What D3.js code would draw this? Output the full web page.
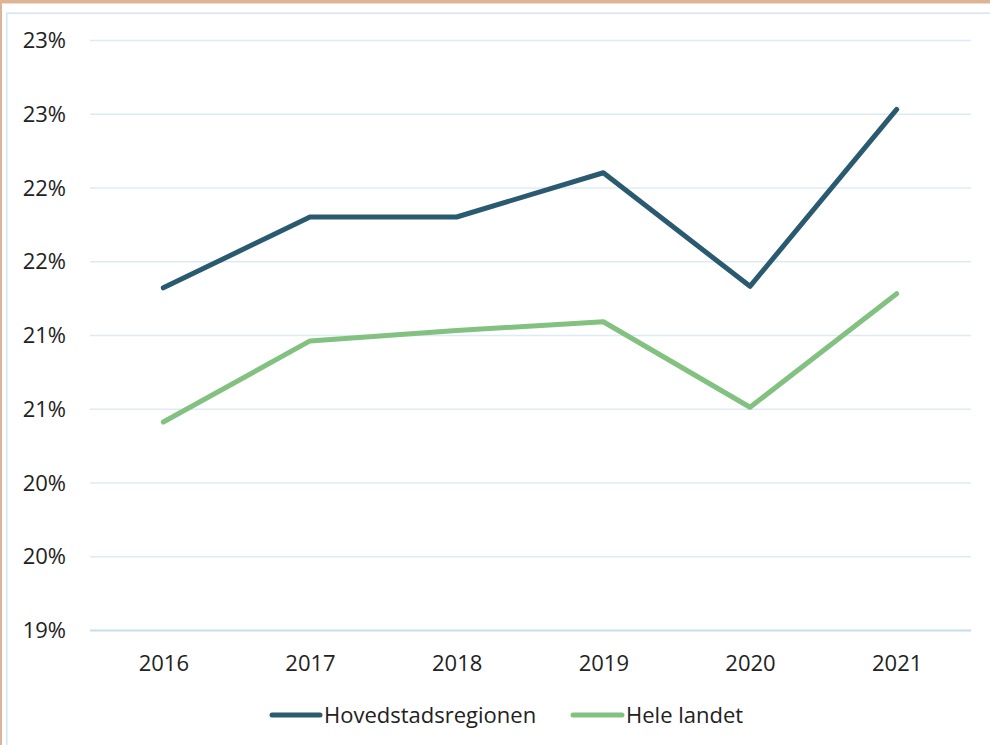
<!DOCTYPE html>
<html>
<head>
<meta charset="utf-8">
<script src="https://cdn.jsdelivr.net/npm/d3@7"></script>
<style>
  html, body { margin: 0; padding: 0; background: #fff; }
  svg { display: block; }
</style>
</head>
<body>
<svg id="chart" width="990" height="745"></svg>
<script>
const years = ["2016", "2017", "2018", "2019", "2020", "2021"];
const hovedstad = [21.32, 21.80, 21.80, 22.10, 21.33, 22.53];
const heleLandet = [20.41, 20.96, 21.03, 21.09, 20.51, 21.28];
const yTicks = [19, 19.5, 20, 20.5, 21, 21.5, 22, 22.5, 23];
const seriesNames = ["Hovedstadsregionen", "Hele landet"];
const seriesColors = ["#2a5a70", "#83c180"];

const svg = d3.select("#chart");
const W = 990, H = 745;
const font = "'Open Sans', 'Noto Sans', sans-serif";
const fs = 22;

// frame
svg.append("rect").attr("x", 0).attr("y", 0).attr("width", W).attr("height", H).attr("fill", "#deb497");
svg.append("rect").attr("x", 2).attr("y", 3.5).attr("width", W).attr("height", H).attr("fill", "#fff");
svg.append("rect").attr("x", 6.75).attr("y", 13.25).attr("width", W + 10).attr("height", H + 10)
  .attr("fill", "#fff").attr("stroke", "#d3e5f0").attr("stroke-width", 1.5);

const x = d3.scalePoint().domain(years).range([90, 970]).padding(0.5);
const y = d3.scaleLinear().domain([19, 23]).range([630, 40]);

// gridlines
const yAxis = d3.axisLeft(y).tickValues(yTicks).tickSize(0).tickPadding(0)
  .tickFormat(d => Math.round(d) + "%");
const gY = svg.append("g").call(yAxis);
gY.select(".domain").remove();
gY.selectAll("text").attr("x", 66).attr("text-anchor", "end").attr("dy", "0.35em")
  .attr("font-family", font).attr("font-size", fs).attr("fill", "#222");
gY.selectAll(".tick").append("line")
  .attr("x1", 90).attr("x2", 971)
  .attr("stroke", d => d === 19 ? "#c6dde9" : "#deebf4")
  .attr("stroke-width", d => d === 19 ? 2 : 1.3);
gY.selectAll(".tick text").raise();

// x axis
const xAxis = d3.axisBottom(x).tickSize(0).tickPadding(0);
const gX = svg.append("g").attr("transform", "translate(0,630)").call(xAxis);
gX.select(".domain").remove();
gX.selectAll("text").attr("y", 33).attr("dy", "0.35em")
  .attr("font-family", font).attr("font-size", fs).attr("fill", "#222");

// lines
const line = d3.line().x((d, i) => x(years[i])).y(d => y(d));
[hovedstad, heleLandet].forEach((s, k) => {
  svg.append("path").datum(s).attr("d", line)
    .attr("fill", "none").attr("stroke", seriesColors[k]).attr("stroke-width", 5)
    .attr("stroke-linecap", "round").attr("stroke-linejoin", "round");
});

// legend
const legendItems = [{x0: 272, x1: 320, tx: 324}, {x0: 573, x1: 622, tx: 626}];
legendItems.forEach((it, k) => {
  const g = svg.append("g");
  g.append("line").attr("x1", it.x0).attr("x2", it.x1).attr("y1", 715).attr("y2", 715)
    .attr("stroke", seriesColors[k]).attr("stroke-width", 5).attr("stroke-linecap", "round");
  g.append("text").attr("x", it.tx).attr("y", 715).attr("dy", "0.35em")
    .attr("font-family", font).attr("font-size", fs).attr("fill", "#222")
    .text(seriesNames[k]);
});
</script>
</body>
</html>
